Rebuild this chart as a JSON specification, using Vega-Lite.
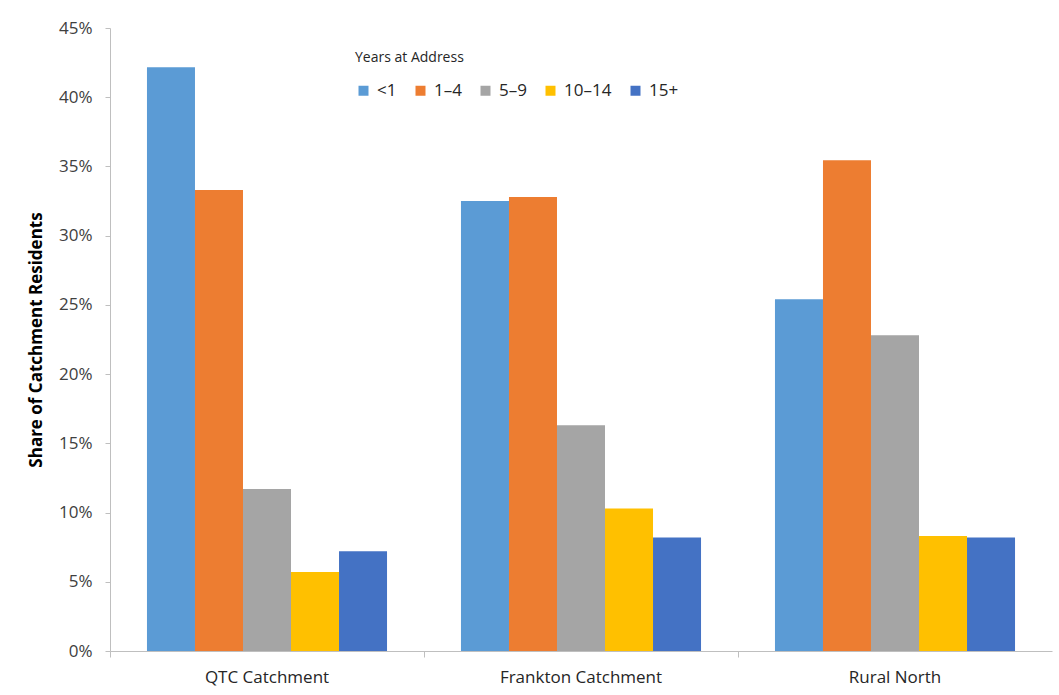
{
  "$schema": "https://vega.github.io/schema/vega-lite/v6.json",
  "autosize": {"type": "none"},
  "padding": {"left": 110, "top": 28, "right": 7, "bottom": 44},
  "width": 942,
  "height": 623,
  "background": "white",
  "config": {
    "view": {"stroke": null},
    "font": "Open Sans",
    "axis": {"grid": false, "domainColor": "#BFBFBF", "tickColor": "#BFBFBF", "labelColor": "#404040", "labelFontSize": 17, "labelFont": "Open Sans"}
  },
  "data": {
    "values": [
      {"area": "QTC Catchment", "years": "<1", "share": 0.4217},
      {"area": "QTC Catchment", "years": "1–4", "share": 0.3330},
      {"area": "QTC Catchment", "years": "5–9", "share": 0.1170},
      {"area": "QTC Catchment", "years": "10–14", "share": 0.0570},
      {"area": "QTC Catchment", "years": "15+", "share": 0.0720},
      {"area": "Frankton Catchment", "years": "<1", "share": 0.3250},
      {"area": "Frankton Catchment", "years": "1–4", "share": 0.3280},
      {"area": "Frankton Catchment", "years": "5–9", "share": 0.1630},
      {"area": "Frankton Catchment", "years": "10–14", "share": 0.1030},
      {"area": "Frankton Catchment", "years": "15+", "share": 0.0820},
      {"area": "Rural North", "years": "<1", "share": 0.2540},
      {"area": "Rural North", "years": "1–4", "share": 0.3545},
      {"area": "Rural North", "years": "5–9", "share": 0.2280},
      {"area": "Rural North", "years": "10–14", "share": 0.0830},
      {"area": "Rural North", "years": "15+", "share": 0.0820}
    ]
  },
  "encoding": {
    "x": {"field": "area", "type": "nominal", "sort": ["QTC Catchment", "Frankton Catchment", "Rural North"],
          "scale": {"paddingInner": 0, "paddingOuter": 0}},
    "xOffset": {"field": "years", "type": "nominal", "sort": ["<1", "1–4", "5–9", "10–14", "15+"],
                "scale": {"paddingInner": 0, "paddingOuter": 0.77}},
    "y": {"field": "share", "type": "quantitative",
          "scale": {"domain": [0, 0.45], "nice": false},
          "axis": {"values": [0, 0.05, 0.1, 0.15, 0.2, 0.25, 0.3, 0.35, 0.4, 0.45], "format": ".0%",
                   "title": "Share of Catchment Residents", "titleFontSize": 17, "titleFontWeight": "bold",
                   "titleColor": "#000000", "titlePadding": 13, "tickSize": 5, "labelPadding": 13}},
    "color": {"field": "years", "type": "nominal", "sort": ["<1", "1–4", "5–9", "10–14", "15+"],
              "scale": {"domain": ["<1", "1–4", "5–9", "10–14", "15+"],
                        "range": ["#5B9BD5", "#ED7D31", "#A5A5A5", "#FFC000", "#4472C4"]},
              "legend": {"title": "Years at Address", "orient": "none", "direction": "horizontal",
                         "legendX": 245, "legendY": 23, "titleFontSize": 14, "titleFontWeight": "normal",
                         "titleColor": "#262626", "titlePadding": 17, "labelFontSize": 17, "labelColor": "#262626",
                         "symbolType": "square", "symbolSize": 100, "symbolStrokeWidth": 0, "labelOffset": 5,
                         "columnPadding": 15}}
  },
  "layer": [
    {
      "mark": {"type": "bar"},
      "encoding": {
        "x": {"field": "area", "type": "nominal", "sort": ["QTC Catchment", "Frankton Catchment", "Rural North"],
              "axis": {"title": null, "orient": "bottom", "ticks": false, "domain": false, "labelAngle": 0, "labelPadding": 18, "labelColor": "#262626"}}
      }
    },
    {
      "mark": {"type": "bar", "opacity": 0},
      "encoding": {
        "x": {"field": "area", "type": "nominal", "sort": ["QTC Catchment", "Frankton Catchment", "Rural North"],
              "axis": {"title": null, "orient": "bottom", "labels": false, "bandPosition": 0, "tickSize": 6}}
      }
    }
  ],
  "resolve": {"axis": {"x": "independent"}}
}
